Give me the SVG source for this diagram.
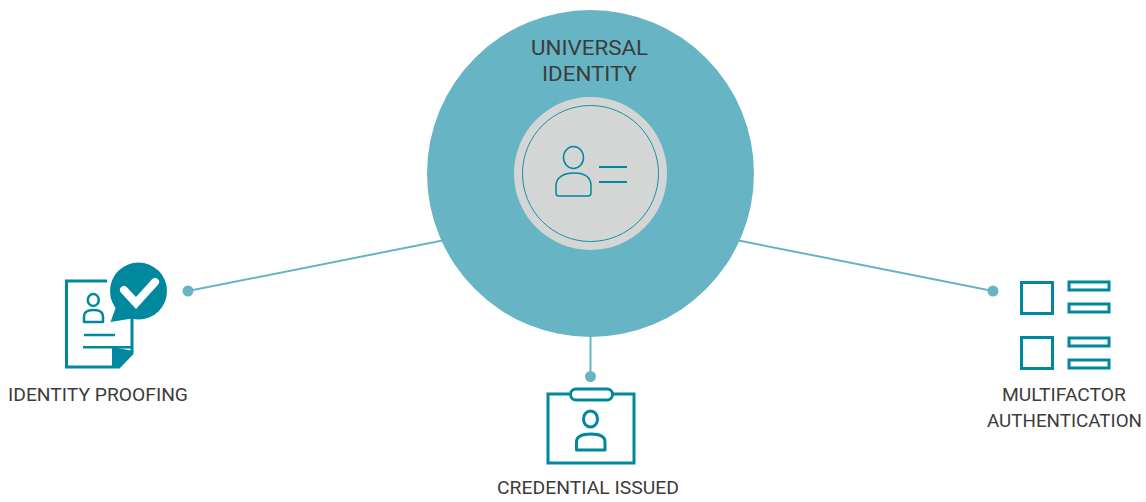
<svg xmlns="http://www.w3.org/2000/svg" width="1146" height="502" viewBox="0 0 1146 502">
<style>
.lbl{font-family:"Roboto","Liberation Sans",sans-serif;font-size:19px;fill:#3c3c3b;text-anchor:middle}
.ttl{font-size:21px}
.conn{stroke:#67b5c4;stroke-width:2;fill:none}
.dot{fill:#67b5c4}
.ic{fill:none;stroke:#00889f;stroke-width:3}
.thin{fill:none;stroke:#00889f;stroke-width:1.5}
.fillc{fill:#00889f}
</style>
<rect width="1146" height="502" fill="#ffffff"/>
<g id="connectors">
<line class="conn" x1="188" y1="291" x2="445" y2="240"/>
<circle class="dot" cx="188" cy="291" r="5.5"/>
<line class="conn" x1="993" y1="291" x2="736" y2="240"/>
<circle class="dot" cx="993" cy="291" r="5.5"/>
<line class="conn" x1="590.500" y1="335" x2="590.500" y2="376"/>
<circle class="dot" cx="590.500" cy="376.500" r="5.500"/>
</g>
<g id="universal-identity">
<circle cx="590.500" cy="173.500" r="163.500" fill="#67b5c4"/>
<text class="lbl ttl" x="589.500" y="55" textLength="117" lengthAdjust="spacingAndGlyphs">UNIVERSAL</text>
<text class="lbl ttl" x="589.500" y="80.500" textLength="95" lengthAdjust="spacingAndGlyphs">IDENTITY</text>
<circle cx="590.500" cy="173.500" r="76.500" fill="#d4d6d6"/>
<circle cx="590.500" cy="173.500" r="68" fill="none" stroke="#00889f" stroke-width="0.900"/>
<ellipse class="thin" cx="573.500" cy="157.500" rx="10" ry="11"/>
<path class="thin" d="M556 193 V186 C556 177 564 173 574 173 C584 173 591 177 591 186 V193 Q591 196 588 196 H559 Q556 196 556 193 Z"/>
<line x1="599" y1="167" x2="627" y2="167" stroke="#00889f" stroke-width="2"/>
<line x1="599" y1="182" x2="627" y2="182" stroke="#00889f" stroke-width="2"/>
</g>
<g id="identity-proofing">
<path class="ic" d="M107 281 H66.500 V367 H112"/>
<path class="ic" d="M132 318 V352"/>
<path class="fillc" d="M112 347 L133.500 351 V354 L119.500 368.500 H112 Z"/>
<circle class="fillc" cx="138.500" cy="291" r="28.500"/>
<path class="fillc" d="M110.500 322 L116 307 L135 318 Z"/>
<path d="M124 290 L136 303 L155 282" fill="none" stroke="#ffffff" stroke-width="8" stroke-linecap="round" stroke-linejoin="miter"/>
<ellipse cx="93.300" cy="300" rx="5.500" ry="6" fill="none" stroke="#00889f" stroke-width="2.500"/>
<path d="M84 322 V316.500 C84 312 88 310 93.500 310 C99 310 103 312 103 316.500 V322 Z" fill="none" stroke="#00889f" stroke-width="2.500" stroke-linejoin="round"/>
<line x1="84" y1="335" x2="115" y2="335" stroke="#00889f" stroke-width="2.500"/>
<line x1="83" y1="347.300" x2="132" y2="347.300" stroke="#00889f" stroke-width="2.500"/>
<text class="lbl" x="98" y="401" textLength="180" lengthAdjust="spacingAndGlyphs">IDENTITY PROOFING</text>
</g>
<g id="credential-issued">
<path class="ic" d="M569 394 H548 V463 H634 V394 H613"/>
<rect class="ic" x="570.500" y="389" width="42" height="11" rx="5.500"/>
<ellipse class="ic" cx="590.500" cy="419" rx="7" ry="8"/>
<path class="ic" d="M576.500 450 V442 C576.500 436 582 434 591 434 C600 434 605 436 605 442 V450 Z" stroke-linejoin="round"/>
<text class="lbl" x="588" y="494" textLength="182" lengthAdjust="spacingAndGlyphs">CREDENTIAL ISSUED</text>
</g>
<g id="multifactor-authentication">
<rect class="ic" x="1021.500" y="282.500" width="31" height="31"/>
<rect class="ic" x="1021.500" y="337.500" width="31" height="31"/>
<rect class="ic" x="1069" y="282" width="40" height="8"/>
<rect class="ic" x="1069" y="304" width="40" height="8"/>
<rect class="ic" x="1069" y="338" width="40" height="8"/>
<rect class="ic" x="1069" y="360" width="40" height="8"/>
<text class="lbl" x="1064" y="401" textLength="124" lengthAdjust="spacingAndGlyphs">MULTIFACTOR</text>
<text class="lbl" x="1064.500" y="427" textLength="155" lengthAdjust="spacingAndGlyphs">AUTHENTICATION</text>
</g>
</svg>
